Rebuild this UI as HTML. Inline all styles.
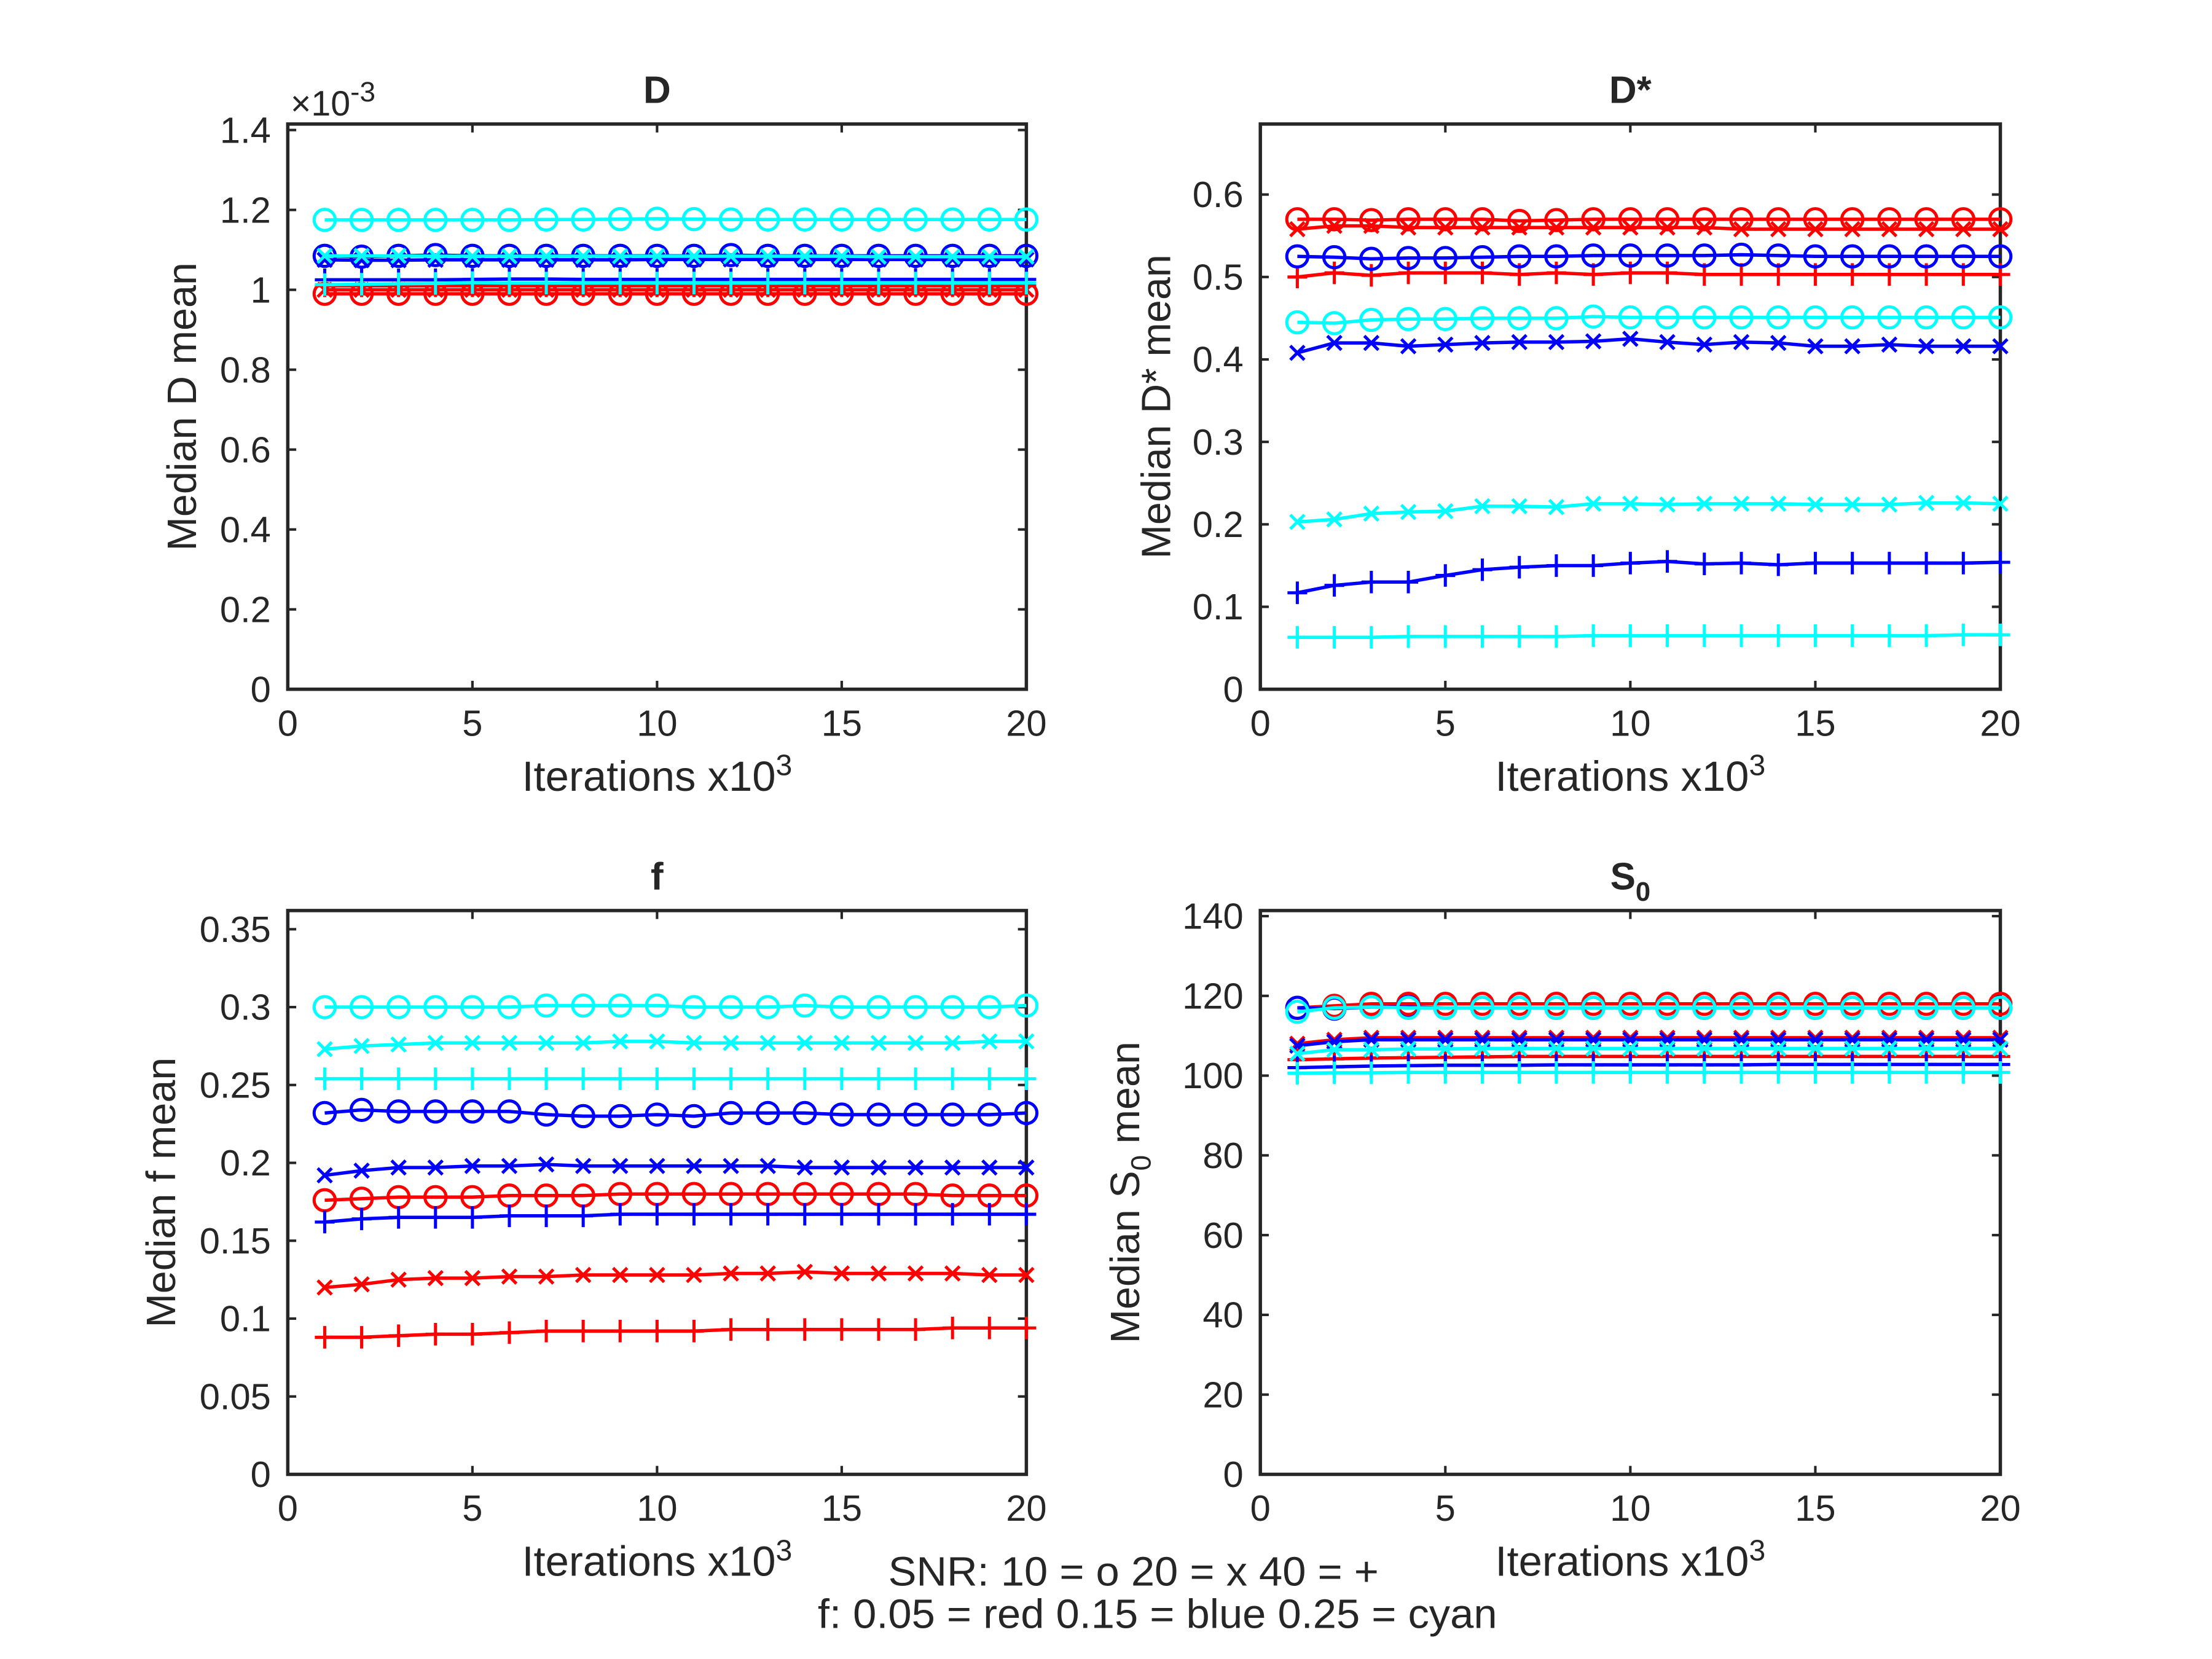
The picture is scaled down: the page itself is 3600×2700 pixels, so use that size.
<!DOCTYPE html>
<html><head><meta charset="utf-8"><style>
html,body{margin:0;padding:0;background:#fff}
svg{display:block}
text{font-family:"Liberation Sans",sans-serif;fill:#262626}
</style></head><body>
<svg id="fig" width="3600" height="2700" viewBox="0 0 1569 1177" xmlns="http://www.w3.org/2000/svg">
<text x="804" y="1125" font-size="29" text-anchor="middle" textLength="348" lengthAdjust="spacingAndGlyphs" fill="#000">SNR: 10 = o 20 = x 40 = +</text>
<text x="821" y="1155" font-size="29" text-anchor="middle" textLength="482" lengthAdjust="spacingAndGlyphs" fill="#000">f: 0.05 = red 0.15 = blue 0.25 = cyan</text>
</svg>
<script>
const iterations=[1,2,3,4,5,6,7,8,9,10,11,12,13,14,15,16,17,18,19,20];
// Panel D (x1e-3)
const D_red_o=[0.99,0.99,0.99,0.99,0.99,0.99,0.99,0.99,0.99,0.99,0.99,0.99,0.99,0.99,0.99,0.99,0.99,0.99,0.99,0.99];
const D_red_x=[1.0,1.0,1.0,1.0,1.0,1.0,1.0,1.0,1.0,1.0,1.0,1.0,1.0,1.0,1.0,1.0,1.0,1.0,1.0,1.0];
const D_red_p=[1.01,1.01,1.01,1.01,1.01,1.01,1.01,1.01,1.01,1.01,1.01,1.01,1.01,1.01,1.01,1.01,1.01,1.01,1.01,1.01];
const D_blue_o=[1.085,1.083,1.085,1.087,1.085,1.085,1.085,1.085,1.085,1.085,1.085,1.087,1.085,1.085,1.085,1.085,1.085,1.085,1.085,1.085];
const D_blue_x=[1.075,1.074,1.074,1.075,1.075,1.075,1.075,1.075,1.075,1.076,1.076,1.076,1.076,1.076,1.076,1.076,1.076,1.076,1.076,1.076];
const D_blue_p=[1.025,1.025,1.025,1.025,1.026,1.027,1.027,1.026,1.026,1.026,1.026,1.026,1.026,1.026,1.026,1.026,1.026,1.026,1.026,1.026];
const D_cyan_o=[1.175,1.175,1.175,1.175,1.175,1.175,1.176,1.176,1.177,1.178,1.177,1.176,1.176,1.176,1.176,1.176,1.176,1.176,1.176,1.176];
const D_cyan_x=[1.085,1.085,1.085,1.084,1.084,1.084,1.084,1.084,1.084,1.084,1.084,1.084,1.084,1.084,1.084,1.083,1.083,1.083,1.083,1.083];
const D_cyan_p=[1.013,1.014,1.015,1.016,1.018,1.017,1.017,1.017,1.017,1.017,1.017,1.017,1.017,1.017,1.017,1.017,1.017,1.017,1.017,1.017];
// Panel D*
const Ds_red_o=[0.57,0.57,0.569,0.57,0.57,0.57,0.568,0.569,0.57,0.57,0.57,0.57,0.57,0.57,0.57,0.57,0.57,0.57,0.57,0.57];
const Ds_red_x=[0.558,0.562,0.562,0.56,0.56,0.56,0.56,0.56,0.56,0.56,0.56,0.56,0.558,0.558,0.558,0.558,0.558,0.558,0.558,0.558];
const Ds_red_p=[0.5,0.505,0.502,0.505,0.505,0.505,0.503,0.505,0.503,0.505,0.505,0.503,0.503,0.503,0.503,0.503,0.503,0.503,0.503,0.503];
const Ds_blue_o=[0.525,0.524,0.522,0.523,0.523,0.524,0.525,0.525,0.526,0.526,0.526,0.526,0.527,0.526,0.525,0.525,0.525,0.525,0.525,0.525];
const Ds_blue_x=[0.408,0.42,0.42,0.416,0.418,0.42,0.421,0.421,0.422,0.425,0.421,0.418,0.421,0.42,0.416,0.416,0.418,0.416,0.416,0.416];
const Ds_blue_p=[0.117,0.126,0.13,0.13,0.138,0.145,0.148,0.15,0.15,0.153,0.155,0.152,0.153,0.151,0.153,0.153,0.153,0.153,0.153,0.154];
const Ds_cyan_o=[0.445,0.444,0.448,0.449,0.449,0.45,0.45,0.45,0.452,0.451,0.451,0.451,0.451,0.451,0.451,0.451,0.451,0.451,0.451,0.451];
const Ds_cyan_x=[0.203,0.206,0.213,0.215,0.216,0.222,0.222,0.221,0.225,0.225,0.224,0.225,0.225,0.225,0.224,0.224,0.224,0.226,0.226,0.225];
const Ds_cyan_p=[0.063,0.063,0.063,0.064,0.064,0.064,0.064,0.064,0.065,0.065,0.065,0.065,0.065,0.065,0.065,0.065,0.065,0.065,0.066,0.066];
// Panel f
const f_red_o=[0.176,0.177,0.178,0.178,0.178,0.179,0.179,0.179,0.18,0.18,0.18,0.18,0.18,0.18,0.18,0.18,0.18,0.179,0.179,0.179];
const f_red_x=[0.12,0.122,0.125,0.126,0.126,0.127,0.127,0.128,0.128,0.128,0.128,0.129,0.129,0.13,0.129,0.129,0.129,0.129,0.128,0.128];
const f_red_p=[0.088,0.088,0.089,0.09,0.09,0.091,0.092,0.092,0.092,0.092,0.092,0.093,0.093,0.093,0.093,0.093,0.093,0.094,0.094,0.094];
const f_blue_o=[0.232,0.234,0.233,0.233,0.233,0.233,0.231,0.23,0.23,0.231,0.23,0.232,0.232,0.232,0.231,0.231,0.231,0.231,0.231,0.232];
const f_blue_x=[0.192,0.195,0.197,0.197,0.198,0.198,0.199,0.198,0.198,0.198,0.198,0.198,0.198,0.197,0.197,0.197,0.197,0.197,0.197,0.197];
const f_blue_p=[0.162,0.164,0.165,0.165,0.165,0.166,0.166,0.166,0.167,0.167,0.167,0.167,0.167,0.167,0.167,0.167,0.167,0.167,0.167,0.167];
const f_cyan_o=[0.3,0.3,0.3,0.3,0.3,0.3,0.301,0.301,0.301,0.301,0.3,0.3,0.3,0.301,0.3,0.3,0.3,0.3,0.3,0.301];
const f_cyan_x=[0.273,0.275,0.276,0.277,0.277,0.277,0.277,0.277,0.278,0.278,0.277,0.277,0.277,0.277,0.277,0.277,0.277,0.277,0.278,0.278];
const f_cyan_p=[0.254,0.254,0.254,0.254,0.254,0.254,0.254,0.254,0.254,0.254,0.254,0.254,0.254,0.254,0.254,0.254,0.254,0.254,0.254,0.254];
// Panel S0
const S_red_o=[117,117.5,118,118,118,118,118,118,118,118,118,118,118,118,118,118,118,118,118,118];
const S_red_x=[108,109,109.5,109.5,109.5,109.5,109.5,109.5,109.5,109.5,109.5,109.5,109.5,109.5,109.5,109.5,109.5,109.5,109.5,109.5];
const S_red_p=[104,104.2,104.4,104.5,104.6,104.7,104.8,104.8,104.8,104.8,104.8,104.8,104.8,104.8,104.8,104.8,104.8,104.8,104.8,104.8];
const S_blue_o=[117,116.8,117.2,117.2,117,117,117,117,117,117,117,117,117,117,117,117,117,117,117,117];
const S_blue_x=[107.5,108.5,109,109,109,109,109,109,109,109,109,109,109,109,109,109,109,109,109,109];
const S_blue_p=[102,102.2,102.4,102.5,102.6,102.6,102.6,102.7,102.7,102.7,102.7,102.7,102.7,102.8,102.8,102.8,102.8,102.8,102.8,102.8];
const S_cyan_o=[116,117,117.2,117,117,117,117,117,117,117,117,117,117,117,117,117,117,117,117,117];
const S_cyan_x=[105.5,106.5,106.5,106.7,106.7,106.8,106.8,106.8,106.8,106.8,106.8,106.8,106.8,106.8,106.8,106.8,106.8,106.8,106.8,106.8];
const S_cyan_p=[100.6,100.7,100.7,100.8,100.8,100.8,100.8,100.8,100.8,100.8,100.8,100.8,100.8,100.8,100.8,100.8,100.8,100.8,100.8,100.8];
const xTicks=[0,5,10,15,20];
const D_yTicks=[0,0.2,0.4,0.6,0.8,1,1.2,1.4];
const Ds_yTicks=[0,0.1,0.2,0.3,0.4,0.5,0.6];
const f_yTicks=[0,0.05,0.1,0.15,0.2,0.25,0.3,0.35];
const S_yTicks=[0,20,40,60,80,100,120,140];

const NS="http://www.w3.org/2000/svg";
const svg=document.getElementById('fig');
function mk(tag,attrs,parent){const e=document.createElementNS(NS,tag);for(const k in attrs)e.setAttribute(k,attrs[k]);(parent||svg).appendChild(e);return e;}
const COL={red:'#ff0000',blue:'#0000ff',cyan:'#00ffff'};

function panel(cfg){
  const g=mk('g',{});
  
  
  const L=cfg.x0,R=cfg.x1,T=cfg.top,B=cfg.bottom;
  const sx=v=>L+(v-0)/(20-0)*(R-L);
  const sy=v=>B-(v-0)/(cfg.ymax-0)*(B-T);
  xTicks.forEach(t=>{
    const x=sx(t);
    mk('line',{x1:x,y1:B,x2:x,y2:B-6,stroke:'#262626','stroke-width':1.8},g);
    mk('line',{x1:x,y1:T,x2:x,y2:T+6,stroke:'#262626','stroke-width':1.8},g);
    const tx=mk('text',{x:x,y:B+33,'font-size':26,'text-anchor':'middle'},g);
    tx.textContent=t;
    
    
  });
  cfg.yTicks.forEach(t=>{
    const y=sy(t);
    mk('line',{x1:L,y1:y,x2:L+6,y2:y,stroke:'#262626','stroke-width':1.8},g);
    mk('line',{x1:R,y1:y,x2:R-6,y2:y,stroke:'#262626','stroke-width':1.8},g);
    const tx=mk('text',{x:L-12,y:y+9,'font-size':26,'text-anchor':'end'},g);
    tx.textContent=t;
    
    
  });
  const box=mk('rect',{x:L,y:T,width:R-L,height:B-T,fill:'none',stroke:'#262626','stroke-width':2.4},g);
  
  
  cfg.series.forEach(s=>{
    const sg=mk('g',{},g);
    
    
    const pts=s.d.map((v,i)=>[sx(iterations[i]),sy(v)]);
    mk('polyline',{points:pts.map(p=>p.join(',')).join(' '),fill:'none',stroke:COL[s.c],'stroke-width':2.4},sg);
    pts.forEach(p=>{
      let m;
      if(s.m==='o') m=mk('circle',{cx:p[0],cy:p[1],r:7.5,fill:'none',stroke:COL[s.c],'stroke-width':2.2},sg);
      else if(s.m==='x') m=mk('path',{d:`M${p[0]-5},${p[1]-5}L${p[0]+5},${p[1]+5}M${p[0]-5},${p[1]+5}L${p[0]+5},${p[1]-5}`,stroke:COL[s.c],'stroke-width':2.2,fill:'none'},sg);
      else m=mk('path',{d:`M${p[0]-7},${p[1]}L${p[0]+7},${p[1]}M${p[0]},${p[1]-8}L${p[0]},${p[1]+8}`,stroke:COL[s.c],'stroke-width':2.2,fill:'none'},sg);
      
      
    });
  });
  const tt=mk('text',{x:(L+R)/2,y:T-15,'font-size':27,'font-weight':'bold','text-anchor':'middle',fill:'#000'},g);
  tt.innerHTML=cfg.title;
  
  
  const xl=mk('text',{x:(L+R)/2,y:B+72,'font-size':30,'text-anchor':'middle'},g);
  xl.innerHTML='Iterations x10<tspan dy="-11" font-size="21">3</tspan>';
  
  
  const yl=mk('text',{x:0,y:0,'font-size':29,'text-anchor':'middle',transform:`translate(${cfg.ylx},${(T+B)/2}) rotate(-90)`},g);
  yl.innerHTML=cfg.ylabel;
  
  
}
function ser(r,b,c){return [
 {c:'red',m:'o',d:r[0]},{c:'red',m:'x',d:r[1]},{c:'red',m:'+',d:r[2]},
 {c:'blue',m:'o',d:b[0]},{c:'blue',m:'x',d:b[1]},{c:'blue',m:'+',d:b[2]},
 {c:'cyan',m:'o',d:c[0]},{c:'cyan',m:'x',d:c[1]},{c:'cyan',m:'+',d:c[2]}];}
panel({name:'d',x0:204,x1:728,top:88,bottom:489,ymax:1.415,yTicks:D_yTicks,title:'D',ylabel:'Median D mean',ylx:139,
 series:ser([D_red_o,D_red_x,D_red_p],[D_blue_o,D_blue_x,D_blue_p],[D_cyan_o,D_cyan_x,D_cyan_p])});
panel({name:'dstar',x0:894,x1:1419,top:88,bottom:489,ymax:0.6855,yTicks:Ds_yTicks,title:'D*',ylabel:'Median D* mean',ylx:830,
 series:ser([Ds_red_o,Ds_red_x,Ds_red_p],[Ds_blue_o,Ds_blue_x,Ds_blue_p],[Ds_cyan_o,Ds_cyan_x,Ds_cyan_p])});
panel({name:'f',x0:204,x1:728,top:646,bottom:1046,ymax:0.362,yTicks:f_yTicks,title:'f',ylabel:'Median f mean',ylx:124,
 series:ser([f_red_o,f_red_x,f_red_p],[f_blue_o,f_blue_x,f_blue_p],[f_cyan_o,f_cyan_x,f_cyan_p])});
panel({name:'s0',x0:894,x1:1419,top:646,bottom:1046,ymax:141.4,yTicks:S_yTicks,title:'S<tspan dy="8" font-size="19">0</tspan>',ylabel:'Median S<tspan dy="8" font-size="20">0</tspan><tspan dy="-8"> mean</tspan>',ylx:808,
 series:ser([S_red_o,S_red_x,S_red_p],[S_blue_o,S_blue_x,S_blue_p],[S_cyan_o,S_cyan_x,S_cyan_p])});
const ex=mk('text',{x:206,y:82,'font-size':25});
ex.innerHTML='×10<tspan dy="-10" font-size="20">-3</tspan>';


</script>
</body></html>
